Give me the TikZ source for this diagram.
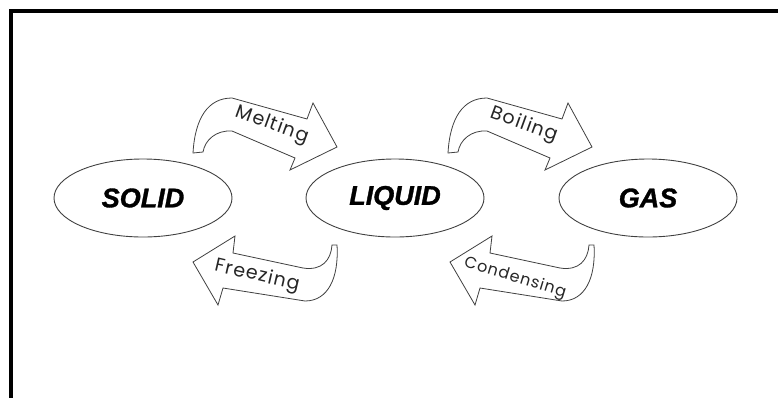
\documentclass[tikz,border=0pt]{standalone}
\usepackage{fontspec}
\newfontfamily\labelfont{Poppins}[LetterSpace=6]
\newfontfamily\statefont{Liberation Sans}[FakeBold=1.2]
\usetikzlibrary{shapes.geometric}
\begin{document}
\begin{tikzpicture}[x=1pt,y=-1pt,
  state/.style={ellipse, draw=black!75, line width=0.9pt, minimum width=178pt, minimum height=78pt, inner sep=0pt,
    font=\statefont\bfseries\itshape\fontsize{27}{27}\selectfont},
  blockarrow/.style={draw=black!75, line width=0.8pt, fill=white, line join=miter},
  arrowlabel/.style={font=\labelfont\fontsize{19}{19}\selectfont, inner sep=0pt, text=black!85}]
\useasboundingbox (0,0) rectangle (778,397);
\clip (0,0) rectangle (778,397);
\draw[line width=4pt] (10.5,10.5) rectangle (800,420);

% states
\node[state] (solid) at (143,198) {SOLID};
\node[state] (liquid) at (395,198) {LIQUID};
\node[state] (gas) at (648,198) {GAS};

% melting / boiling arrows
\draw[blockarrow] (193,153) .. controls (195,118) and (208,98) .. (232,98) -- (307,119) -- (313,103) -- (337,147) -- (290,170) -- (295,158) -- (232,131) .. controls (216,130) and (205,140) .. (203,152) -- cycle;
\begin{scope}[shift={(255,0)}]
\draw[blockarrow] (193,153) .. controls (195,118) and (208,98) .. (232,98) -- (307,119) -- (313,103) -- (337,147) -- (290,170) -- (295,158) -- (232,131) .. controls (216,130) and (205,140) .. (203,152) -- cycle;
\end{scope}

% freezing / condensing arrows
\draw[blockarrow] (193,262) -- (235,236) -- (233,253) -- (303,268) .. controls (322,271) and (331,260) .. (332,245) -- (337,245) .. controls (339,278) and (328,301) .. (305,301) -- (223,288) -- (218,305) -- cycle;
\begin{scope}[shift={(257,0)}]
\draw[blockarrow] (193,262) -- (235,236) -- (233,253) -- (303,268) .. controls (322,271) and (331,260) .. (332,245) -- (337,245) .. controls (339,278) and (328,301) .. (305,301) -- (223,288) -- (218,305) -- cycle;
\end{scope}

% labels
\node[arrowlabel, rotate=-20] (melt) at (272,125) {Melting};
\node[arrowlabel, rotate=-20] (boil) at (524,125) {Boiling};
\node[arrowlabel, rotate=-13] (freeze) at (257,276) {Freezing};
\node[arrowlabel, rotate=-17, font=\labelfont\fontsize{16}{16}\selectfont] (cond) at (515,278) {Condensing};
\end{tikzpicture}
\end{document}
